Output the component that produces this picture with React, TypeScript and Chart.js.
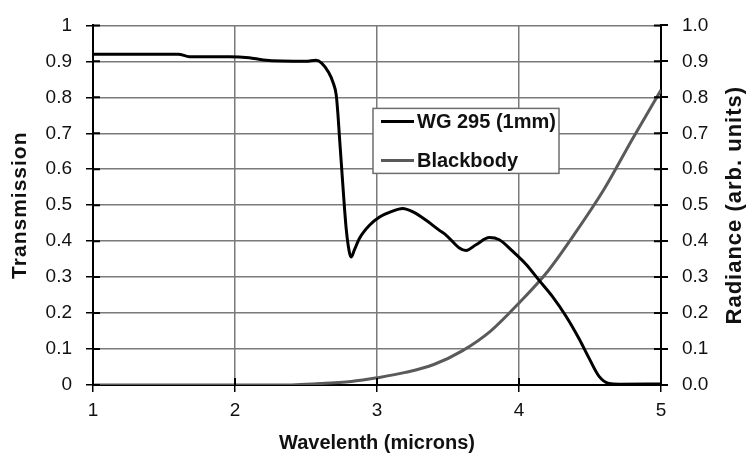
import React, { useEffect, useRef } from "react";
import { Chart, registerables } from "chart.js";

Chart.register(...registerables);

// Transmission curve (WG 295, 1mm)
const transWavelength = [
  1.0, 1.6, 1.68, 1.96, 2.1, 2.2, 2.5, 2.57, 2.61, 2.66, 2.69, 2.713, 2.725, 2.736, 2.76,
  2.783, 2.805, 2.818, 2.84, 2.877, 2.947, 3.018, 3.1, 3.18, 3.26, 3.346, 3.44,
  3.486, 3.58, 3.627, 3.697, 3.791, 3.861, 3.955, 4.049, 4.142, 4.236, 4.33,
  4.424, 4.494, 4.564, 4.634, 4.705, 5.0,
];
const transValues = [
  0.92, 0.92, 0.913, 0.913, 0.91, 0.904, 0.9, 0.903, 0.895, 0.869, 0.842, 0.806, 0.752,
  0.688, 0.553, 0.435, 0.37, 0.356, 0.375, 0.408, 0.444, 0.467, 0.482, 0.491,
  0.48, 0.458, 0.43, 0.417, 0.381, 0.374, 0.39, 0.41, 0.404, 0.372, 0.336, 0.291,
  0.246, 0.192, 0.128, 0.074, 0.024, 0.004, 0.002, 0.003,
];

// Blackbody radiance
const bbWavelength = [
  1.0, 1.5, 2.0, 2.4, 2.5, 2.6, 2.7, 2.8, 2.9, 3.0, 3.2, 3.4, 3.6, 3.8, 4.0, 4.2,
  4.4, 4.6, 4.8, 5.0,
];
const bbValues = [
  0, 0, 0, 0, 0.002, 0.004, 0.006, 0.009, 0.014, 0.02, 0.035, 0.057, 0.095, 0.15,
  0.228, 0.315, 0.425, 0.545, 0.685, 0.82,
];

const seriesNames = ["WG 295 (1mm)", "Blackbody"];
const xTickLabels = ["1", "2", "3", "4", "5"];
const leftTickLabels = ["0", "0.1", "0.2", "0.3", "0.4", "0.5", "0.6", "0.7", "0.8", "0.9", "1"];
const rightTickLabels = ["0.0", "0.1", "0.2", "0.3", "0.4", "0.5", "0.6", "0.7", "0.8", "0.9", "1.0"];
const xTitle = "Wavelenth (microns)";
const leftTitle = "Transmission";
const rightTitle = "Radiance (arb. units)";

const FONT = "'Liberation Sans', Arial, sans-serif";

const innerTicks = {
  id: "innerTicks",
  afterDraw(chart: any) {
    const { ctx, chartArea: ca } = chart;
    const xs = chart.scales.x;
    const yl = chart.scales.y;
    const yr = chart.scales.y2;
    ctx.save();
    ctx.strokeStyle = "#000";
    ctx.lineWidth = 2;
    ctx.beginPath();
    yl.ticks.forEach((t: any) => {
      const p = yl.getPixelForValue(t.value);
      ctx.moveTo(ca.left, p);
      ctx.lineTo(ca.left + 7, p);
    });
    yr.ticks.forEach((t: any) => {
      const p = yr.getPixelForValue(t.value);
      ctx.moveTo(ca.right, p);
      ctx.lineTo(ca.right - 7, p);
    });
    xs.ticks.forEach((t: any) => {
      const p = xs.getPixelForValue(t.value);
      ctx.moveTo(p, ca.bottom);
      ctx.lineTo(p, ca.bottom - 7);
    });
    ctx.stroke();
    ctx.restore();
  },
};

const sideTitles = {
  id: "sideTitles",
  afterDraw(chart: any) {
    const { ctx, chartArea: ca } = chart;
    const cy = (ca.top + ca.bottom) / 2;
    const draw = (text: string, cx: number, size: number, spacing: number) => {
      ctx.save();
      ctx.translate(cx, cy);
      ctx.rotate(-Math.PI / 2);
      ctx.font = `bold ${size}px ${FONT}`;
      (ctx as any).letterSpacing = `${spacing}px`;
      ctx.fillStyle = "#111";
      ctx.textAlign = "center";
      ctx.textBaseline = "middle";
      ctx.fillText(text, 0, 0);
      ctx.restore();
    };
    draw(leftTitle, 20, 21, 1);
    draw(rightTitle, 735, 22, 1);
  },
};

const boxLegend = {
  id: "boxLegend",
  afterDraw(chart: any) {
    const { ctx, chartArea: ca } = chart;
    const left = ca.left + 280;
    const top = ca.top + 83;
    const w = 186;
    const h = 65;
    ctx.save();
    ctx.fillStyle = "#fff";
    ctx.fillRect(left, top, w, h);
    ctx.strokeStyle = "#6e6e6e";
    ctx.lineWidth = 1.5;
    ctx.strokeRect(left, top, w, h);
    ctx.font = `bold 20px ${FONT}`;
    ctx.textBaseline = "middle";
    ctx.textAlign = "left";
    chart.data.datasets.forEach((ds: any, i: number) => {
      const cy = top + 13 + i * 39;
      ctx.strokeStyle = ds.borderColor;
      ctx.lineWidth = 3;
      ctx.beginPath();
      ctx.moveTo(left + 8, cy);
      ctx.lineTo(left + 41, cy);
      ctx.stroke();
      ctx.fillStyle = "#111";
      ctx.fillText(ds.label, left + 44, cy + 1);
    });
    ctx.restore();
  },
};

export default function App() {
  const ref = useRef<HTMLCanvasElement | null>(null);

  useEffect(() => {
    if (!ref.current) return;
    const tickFont = { family: FONT, size: 19 };
    const titleFont = { family: FONT, size: 20, weight: "bold" as const };
    const chart = new Chart(ref.current, {
      type: "line",
      data: {
        datasets: [
          {
            label: seriesNames[0],
            data: transWavelength.map((x, i) => ({ x, y: transValues[i] })),
            borderColor: "#000000",
            borderWidth: 3,
            pointRadius: 0,
            cubicInterpolationMode: "monotone",
            yAxisID: "y",
          },
          {
            label: seriesNames[1],
            data: bbWavelength.map((x, i) => ({ x, y: bbValues[i] })),
            borderColor: "#5a5a5a",
            borderWidth: 3,
            pointRadius: 0,
            cubicInterpolationMode: "monotone",
            yAxisID: "y2",
          },
        ],
      },
      options: {
        animation: false,
        responsive: true,
        maintainAspectRatio: false,
        layout: { padding: { top: 15, left: 0, right: 0, bottom: 0 } },
        plugins: { legend: { display: false }, tooltip: { enabled: false } },
        scales: {
          x: {
            type: "linear",
            min: 1,
            max: 5,
            ticks: {
              stepSize: 1,
              color: "#111",
              font: tickFont,
              padding: 7,
              maxRotation: 0,
              callback: (v: any) => xTickLabels[Math.round(Number(v)) - 1] ?? "",
            },
            grid: { color: "#7a7a7a", lineWidth: 1.5, tickColor: "#000", tickLength: 7 },
            border: { color: "#000", width: 2 },
            title: { display: true, text: xTitle, font: titleFont, color: "#111", padding: { top: 0, bottom: 7 } },
            afterFit: (s: any) => { s.height = 77; },
          },
          y: {
            position: "left",
            min: 0,
            max: 1,
            ticks: {
              stepSize: 0.1,
              color: "#111",
              font: tickFont,
              padding: 14,
              callback: (v: any) => leftTickLabels[Math.round(Number(v) * 10)] ?? "",
            },
            grid: { color: "#7a7a7a", lineWidth: 1.5, tickColor: "#000", tickLength: 7 },
            border: { color: "#000", width: 2 },
            afterFit: (s: any) => { s.width = 93; },
          },
          y2: {
            position: "right",
            min: 0,
            max: 1,
            ticks: {
              stepSize: 0.1,
              color: "#111",
              font: tickFont,
              padding: 14,
              callback: (v: any) => rightTickLabels[Math.round(Number(v) * 10)] ?? "",
            },
            grid: { drawOnChartArea: false, tickColor: "#000", tickLength: 7, lineWidth: 2 },
            border: { color: "#000", width: 2 },
            afterFit: (s: any) => { s.width = 89; },
          },
        },
      },
      plugins: [innerTicks, sideTitles, boxLegend],
    });
    return () => chart.destroy();
  }, []);

  return (
    <div style={{ position: "absolute", left: 0, top: 0, width: 750, height: 462, background: "#fff" }}>
      <canvas ref={ref} />
    </div>
  );
}
